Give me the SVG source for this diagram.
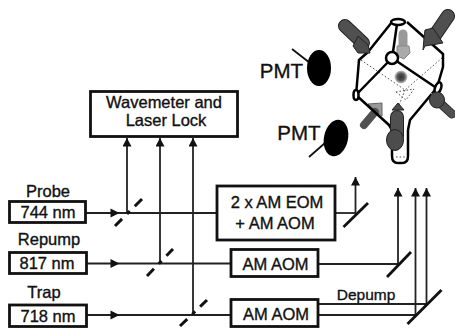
<svg xmlns="http://www.w3.org/2000/svg" width="455" height="329" viewBox="0 0 455 329">
<defs>
<style>
text{font-family:"Liberation Sans",Arial,sans-serif;font-size:16.5px;fill:#111;stroke:#111;stroke-width:0.35px;text-anchor:middle}
.box{fill:#fff;stroke:#111;stroke-width:2.8}
.ln{fill:none;stroke:#222;stroke-width:1.8}
.up{fill:none;stroke:#222;stroke-width:1.8;marker-end:url(#ah)}
.mir{stroke:#111;stroke-width:2.8;fill:none}
.dash{stroke:#111;stroke-width:3;fill:none;stroke-dasharray:10 7 4 7 12}
.oct{fill:none;stroke:#000;stroke-width:2.5;stroke-linejoin:round}
.dot{fill:none;stroke:#555;stroke-width:1;stroke-dasharray:1.6 2}
.sh{stroke:#222;stroke-linecap:round;fill:none}
.dk{stroke:#505050;stroke-linecap:round;fill:none}
.dkf{fill:#4c4c4c;stroke:#222;stroke-width:1}
</style>
<marker id="ah" markerUnits="userSpaceOnUse" markerWidth="10" markerHeight="10" refX="8.500" refY="4.500" orient="auto"><path d="M0 0L8.500 4.500L0 9Z" fill="#111"/></marker>
<radialGradient id="g"><stop offset="0" stop-color="#333"/><stop offset="0.55" stop-color="#555"/><stop offset="1" stop-color="#ccc"/></radialGradient>
</defs>
<rect width="455" height="329" fill="#fff"/>
<g id="connectors">
<path class="ln" d="M86 213H217M87 263.500H231M87 315H231"/>
<path d="M110.500 208.500L119.500 213L110.500 217.500ZM110.500 259L119.500 263.500L110.500 268ZM110.500 310.500L119.500 315L110.500 319.500Z" fill="#111"/>
<path class="up" d="M127 213V138"/>
<path class="up" d="M160 263V138"/>
<path class="up" d="M193 315V138"/>
<path class="dash" d="M115 226L142 199"/>
<path class="dash" d="M147 276L173 249"/>
<path class="dash" d="M180 326L207 300"/>
<path class="ln" d="M335 213H356"/>
<path class="up" d="M355.500 213V177"/>
<path class="mir" d="M343.500 227L368 203"/>
<path class="ln" d="M318 264H398"/>
<path class="up" d="M398 264V188"/>
<path class="mir" d="M387 277L411 252"/>
<path class="ln" d="M318 304H426M318 315H415"/>
<path class="up" d="M415.500 315V188"/>
<path class="up" d="M426.500 304V188"/>
<path class="mir" d="M407.500 324L441.500 290"/>
</g>
<g id="probe"><text x="48" y="197">Probe</text><rect class="box" x="9.500" y="201.500" width="76" height="21"/><text x="48" y="218">744 nm</text></g>
<g id="repump"><text x="49" y="245">Repump</text><rect class="box" x="9.500" y="252.500" width="77" height="21"/><text x="47" y="269">817 nm</text></g>
<g id="trap"><text x="44" y="298">Trap</text><rect class="box" x="9.500" y="305" width="77" height="21.500"/><text x="48" y="322">718 nm</text></g>
<g id="wavemeter"><rect class="box" x="90.500" y="91.500" width="147" height="45"/><text x="164" y="108">Wavemeter and</text><text x="166" y="126">Laser Lock</text></g>
<g id="eom"><rect class="box" x="217" y="186" width="118" height="54"/><text x="277" y="208">2 x AM EOM</text><text x="275" y="229">+ AM AOM</text></g>
<g id="aom1"><rect class="box" x="231" y="249.500" width="87" height="27"/><text x="275.500" y="270">AM AOM</text></g>
<g id="aom2"><rect class="box" x="231" y="299.500" width="87" height="27"/><text x="276" y="320">AM AOM</text></g>
<g id="depump"><text x="366" y="300" style="font-size:15.500px">Depump</text></g>
<g id="pmt1"><path d="M292 49L310 63" stroke="#111" stroke-width="1.800"/><ellipse cx="319" cy="68" rx="12" ry="18" fill="#000"/><text x="281.500" y="78" style="font-size:20.500px">PMT</text></g>
<g id="pmt2"><path d="M309 157L325 143" stroke="#111" stroke-width="1.800"/><ellipse cx="336" cy="138" rx="12" ry="18.500" fill="#000" transform="rotate(12 336 138)"/><text x="299" y="140" style="font-size:20.500px">PMT</text></g>
<g id="chamber">
<path d="M403 34V46" stroke="#999" stroke-width="9" stroke-linecap="round" fill="none"/>
<path d="M397 46H409L410 53L404 59L397 56Z" fill="#aaa" stroke="#888"/>
<path class="dot" d="M361 60L405 90L442 58M405 90L398 108M396 92L406 100L414 89Z"/>
<circle cx="401" cy="77" r="6.500" fill="url(#g)"/>
<path d="M368 104L382 103L382 116Z" fill="#999" stroke="#666"/>
<path class="dk" stroke-width="8" d="M364 125L375 112"/>
<path d="M392 130V156Q392 163 398 163H402Q408 163 408 156V130" fill="#fff" stroke="#000" stroke-width="2.500"/>
<path class="dot" d="M396 157H405"/>
<path class="oct" d="M392 22L368 52L359 60L358 72L356 95L389 125L392 130M407 22L443 54L443 67L438 84L435 90L410 120L408 130M356 95L392 58L438 89M397 24L393 52"/>
<ellipse cx="398" cy="22" rx="7" ry="3" fill="#fff" stroke="#000" stroke-width="2.500"/>
<circle cx="392" cy="58" r="6" fill="#fff" stroke="#000" stroke-width="2.500"/>
<ellipse cx="356" cy="95" rx="2.500" ry="5" fill="#fff" stroke="#000" stroke-width="2.500"/>
<ellipse cx="438" cy="88" rx="3" ry="6" fill="#fff" stroke="#000" stroke-width="2.500" transform="rotate(20 438 88)"/>
<g id="beam-ul"><path class="sh" stroke-width="14" d="M345 26L363 43"/><path class="dk" stroke-width="12" d="M345 26L363 43"/><path class="dkf" d="M358 36L368 45L370 53L358 53L353 46Z"/></g>
<g id="beam-ur"><path class="sh" stroke-width="14" d="M448 16L433 38"/><path class="dk" stroke-width="12" d="M448 16L433 38"/><path class="dkf" d="M425 30L433 28L443 43L425 46L423 50L424 38Z"/></g>
<g id="beam-lr"><path class="sh" stroke-width="9" d="M452 114L440 103"/><path class="dk" stroke-width="7.500" d="M452 114L440 103"/><path d="M431 93L436 93L432 100Z" fill="#999"/><ellipse class="dkf" cx="437" cy="100" rx="7.500" ry="8"/></g>
<g id="beam-b"><path class="dkf" d="M398 103L404 110H392Z"/><path class="sh" stroke-width="14" d="M397 117V136"/><path class="dk" stroke-width="12" d="M397 117V136"/><ellipse class="dkf" cx="395" cy="140" rx="8.500" ry="10.500"/></g>
</g>
</svg>
